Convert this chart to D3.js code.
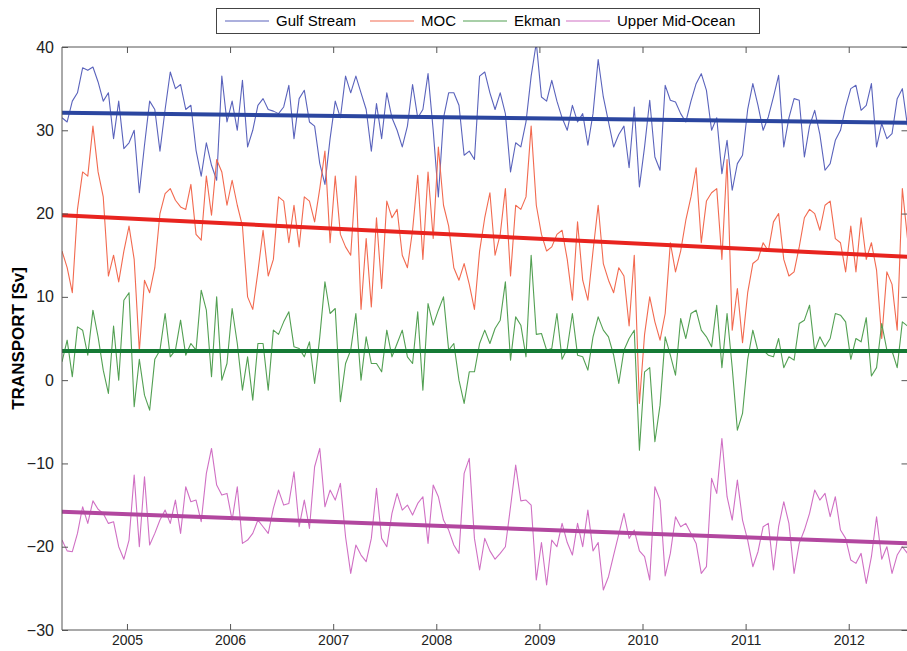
<!DOCTYPE html>
<html>
<head>
<meta charset="utf-8" />
<title>Transport time series</title>
<script src="https://cdn.jsdelivr.net/npm/d3@7"></script>
<style>
    body { margin: 0; background: #fff; }
    svg { display: block; font-family: "Liberation Sans", Arial, sans-serif; }
    .axis text { fill: #222; }
    .axis path, .axis line { stroke: #555; }
</style>
</head>
<body>
<svg id="chart" width="907" height="651"></svg>
<script>
// sampling of the series (decimal years)
var startYear = 2004.37, stepYears = 0.05;
var yearTicks = [2005, 2006, 2007, 2008, 2009, 2010, 2011, 2012];
var valueTicks = [-30, -20, -10, 0, 10, 20, 30, 40];

var seriesNames = ["Gulf Stream", "MOC", "Ekman", "Upper Mid-Ocean"];

var gulfStream = [31.5,31.0,33.5,34.5,37.5,37.2,37.6,35.8,33.5,34.5,
    29.0,33.5,27.8,28.5,30.0,22.5,28.2,33.5,32.5,27.5,
    32.5,37.0,35.0,35.5,32.5,33.0,27.6,24.5,28.5,25.8,
    24.0,36.5,31.0,33.5,30.0,36.0,28.0,30.0,33.0,33.8,
    32.5,32.3,32.0,32.8,35.4,29.0,33.8,34.8,31.0,30.5,
    26.0,23.5,29.0,33.5,31.5,36.5,34.5,36.5,34.5,32.5,
    27.5,33.2,29.0,34.5,31.5,30.0,28.0,30.5,35.5,31.5,
    32.5,36.8,30.0,22.0,31.5,34.5,34.5,33.0,27.0,27.5,
    26.5,36.5,37.0,34.5,32.5,34.5,32.0,25.0,28.5,28.0,
    31.0,36.5,40.5,34.0,33.5,36.0,33.5,31.5,30.0,33.0,
    31.0,32.0,28.2,32.0,38.5,34.0,31.0,28.0,29.5,30.5,
    25.5,32.8,23.2,28.0,33.6,26.8,25.2,35.4,33.6,33.4,
    32.0,31.0,33.5,35.6,36.8,34.8,30.0,31.5,24.8,28.8,
    22.8,26.0,27.0,32.5,35.6,33.0,30.0,31.6,34.0,36.6,
    28.0,31.5,33.8,33.6,26.8,30.5,32.4,29.5,25.2,26.0,
    28.8,30.0,32.8,35.0,35.4,32.4,33.0,35.6,28.0,30.8,
    29.0,29.6,33.8,35.0,30.5];

var moc = [15.5,13.5,10.5,20.5,25.0,24.5,30.5,25.0,22.0,12.5,
    15.0,11.8,15.5,18.5,14.5,3.5,12.0,10.5,13.5,20.0,
    22.4,23.0,21.6,20.8,20.5,23.5,17.5,16.8,24.5,19.8,
    26.5,25.0,21.0,24.0,21.0,18.5,10.0,8.5,13.0,18.0,
    12.5,14.5,22.0,21.5,16.5,21.0,16.0,22.0,21.5,19.0,
    23.0,27.5,16.5,24.5,17.5,16.0,15.0,24.5,8.5,17.0,
    8.8,19.5,11.0,21.5,19.5,20.5,15.0,13.5,18.0,24.6,
    14.5,25.0,17.0,28.0,21.0,18.5,13.5,12.0,14.0,11.5,
    8.5,15.5,19.5,22.5,15.0,17.5,23.0,12.5,21.0,20.5,
    22.0,30.5,21.0,17.5,15.5,16.0,17.5,18.0,14.5,9.6,
    19.0,12.0,9.6,15.5,21.0,14.0,12.0,10.5,13.5,12.5,
    6.5,15.0,-2.8,5.5,10.0,7.0,4.8,8.0,16.5,13.0,
    15.5,19.2,22.0,25.5,16.5,21.5,22.5,23.0,14.5,26.5,
    6.0,11.0,4.5,10.5,14.0,14.5,16.5,15.5,19.0,20.0,
    14.5,12.5,13.0,16.0,19.5,20.5,20.0,18.0,21.0,21.5,
    17.0,16.5,13.0,18.5,13.0,19.5,14.5,16.5,13.2,5.0,
    13.0,11.5,6.0,23.0,17.0];

var ekman = [2.2,4.8,0.4,6.4,6.0,3.0,8.4,5.2,1.2,-1.6,
    6.5,0.0,9.6,10.5,-3.2,2.5,-1.8,-3.6,2.5,3.6,
    8.0,2.8,3.6,7.2,3.0,4.4,3.6,10.8,8.4,0.4,
    10.0,0.0,2.0,8.6,4.4,-1.2,2.8,-2.4,4.4,4.4,
    -1.2,6.0,5.5,7.0,8.2,4.0,3.8,2.8,4.6,-0.4,
    5.2,11.8,8.0,8.6,-2.6,2.0,3.6,8.0,0.0,5.2,
    2.0,2.0,1.0,6.0,2.8,4.4,6.0,2.8,2.0,8.2,
    -1.2,9.2,6.6,8.4,10.0,3.6,4.4,0.0,-2.8,1.0,
    1.0,4.4,6.0,4.4,6.2,7.2,11.8,2.4,7.6,6.6,
    2.8,15.0,5.5,5.6,3.6,3.8,8.0,2.5,3.8,8.0,
    3.0,2.8,1.2,5.2,7.6,6.0,5.2,3.0,-0.4,3.6,
    5.0,6.0,-8.4,1.0,1.5,-7.4,-3.0,5.2,3.0,0.6,
    7.4,5.0,8.0,8.4,6.0,5.2,4.0,9.0,1.5,8.0,
    1.5,-6.0,-4.0,2.5,6.0,3.5,3.6,3.0,2.8,5.0,
    1.5,2.8,2.4,6.8,7.2,9.0,3.5,5.2,4.0,5.0,
    8.0,7.8,7.0,2.5,5.0,4.6,7.5,0.5,1.5,6.8,
    3.6,3.5,1.5,7.0,6.5];

var upperMidOcean = [-19.2,-20.5,-20.6,-18.4,-15.2,-17.2,-14.5,-15.5,-16.0,-17.2,
    -17.0,-20.0,-21.5,-19.2,-11.4,-20.0,-11.6,-19.8,-18.4,-16.8,
    -15.6,-17.2,-14.4,-18.4,-12.8,-14.6,-14.4,-17.0,-11.2,-8.2,
    -12.6,-13.8,-13.6,-16.8,-12.8,-19.6,-19.2,-18.4,-16.8,-17.6,
    -18.4,-15.4,-13.2,-15.0,-14.8,-11.0,-17.6,-14.4,-17.8,-10.4,
    -8.2,-15.2,-13.2,-14.4,-12.4,-18.8,-23.2,-19.8,-21.0,-21.8,
    -19.0,-13.0,-19.0,-20.0,-16.0,-13.6,-15.6,-15.0,-16.2,-14.8,
    -14.0,-19.6,-12.6,-14.0,-16.8,-18.0,-19.8,-20.8,-11.2,-9.4,
    -19.0,-22.8,-19.0,-20.5,-21.5,-20.8,-20.0,-15.2,-10.2,-14.5,
    -14.4,-15.0,-24.0,-19.5,-24.6,-19.2,-20.0,-17.2,-19.5,-21.0,
    -17.2,-20.0,-15.6,-20.5,-19.5,-25.2,-23.6,-21.0,-18.5,-16.0,
    -19.0,-18.0,-20.5,-21.2,-24.0,-12.8,-14.4,-23.5,-20.8,-16.4,
    -17.6,-17.2,-18.4,-19.6,-23.2,-22.4,-11.8,-13.6,-7.0,-14.0,
    -16.8,-12.0,-16.8,-19.2,-22.4,-20.6,-17.6,-17.2,-22.8,-17.6,
    -14.6,-17.2,-23.2,-19.6,-18.0,-16.0,-13.2,-14.4,-13.6,-16.4,
    -14.0,-18.0,-19.0,-21.6,-22.0,-20.8,-24.4,-21.2,-16.4,-21.5,
    -20.0,-23.2,-21.0,-20.0,-20.8];

// linear trend, value at first and last sample
var trendStart = [32.1, 19.8, 3.5, -15.8];
var trendEnd   = [30.9, 14.8, 3.5, -19.6];

var thinColors  = ["#5a63bc", "#f26a50", "#53a053", "#d070c4"];
var trendColors = ["#2b46a0", "#e8241f", "#157a35", "#b2479f"];

var allSeries = [gulfStream, moc, ekman, upperMidOcean];

var svg = d3.select("#chart");
var margin = {top: 47, left: 62};
var plotRight = 907.5;
var height = 630;

var x = d3.scaleLinear()
    .domain([startYear, startYear + stepYears * (gulfStream.length - 1)])
    .range([margin.left, plotRight]);
var y = d3.scaleLinear().domain([-30, 40]).range([height, margin.top]);

svg.append("defs").append("clipPath").attr("id", "plotclip")
    .append("rect")
    .attr("x", margin.left).attr("y", margin.top)
    .attr("width", plotRight - margin.left + 20).attr("height", height - margin.top);

var plot = svg.append("g").attr("clip-path", "url(#plotclip)");

var line = d3.line()
    .x(function(d, i) { return x(startYear + i * stepYears); })
    .y(function(d) { return y(d); });

allSeries.forEach(function(s, k) {
    plot.append("path")
        .datum(s)
        .attr("fill", "none")
        .attr("stroke", thinColors[k])
        .attr("stroke-width", 1.1)
        .attr("stroke-linejoin", "round")
        .attr("d", line);
});

var lastYear = startYear + stepYears * (gulfStream.length - 1);
allSeries.forEach(function(s, k) {
    plot.append("line")
        .attr("x1", x(startYear)).attr("y1", y(trendStart[k]))
        .attr("x2", x(lastYear)).attr("y2", y(trendEnd[k]))
        .attr("stroke", trendColors[k])
        .attr("stroke-width", 4);
});

// box: left, top, bottom (right side sits at the page edge)
var frame = svg.append("g").attr("stroke", "#555").attr("stroke-width", 1).attr("fill", "none");
frame.append("line").attr("x1", margin.left).attr("x2", margin.left).attr("y1", margin.top).attr("y2", height);
frame.append("line").attr("x1", margin.left).attr("x2", 907).attr("y1", margin.top).attr("y2", margin.top);
frame.append("line").attr("x1", margin.left).attr("x2", 907).attr("y1", height).attr("y2", height);

// axes, MATLAB style ticks pointing inward
svg.append("g")
    .attr("class", "axis")
    .attr("transform", "translate(0," + height + ")")
    .call(d3.axisBottom(x).tickValues(yearTicks).tickFormat(d3.format("d")).tickSizeInner(-6).tickSizeOuter(0).tickPadding(5))
    .call(function(g) { g.select(".domain").remove(); g.selectAll("text").style("font-size", "14px"); });

svg.append("g")
    .attr("transform", "translate(0," + margin.top + ")")
    .call(d3.axisTop(x).tickValues(yearTicks).tickFormat("").tickSizeInner(-6).tickSizeOuter(0))
    .call(function(g) { g.select(".domain").remove(); g.selectAll("line").attr("stroke", "#555"); });

svg.append("g")
    .attr("class", "axis")
    .attr("transform", "translate(" + margin.left + ",0)")
    .call(d3.axisLeft(y).tickValues(valueTicks).tickFormat(function(d) { return d < 0 ? "\u2212" + Math.abs(d) : d; }).tickSizeInner(-6).tickSizeOuter(0).tickPadding(8))
    .call(function(g) { g.select(".domain").remove(); g.selectAll("text").style("font-size", "16px"); });

svg.append("g")
    .attr("transform", "translate(" + plotRight + ",0)")
    .call(d3.axisRight(y).tickValues(valueTicks).tickFormat("").tickSizeInner(-6).tickSizeOuter(0))
    .call(function(g) { g.select(".domain").remove(); g.selectAll("line").attr("stroke", "#555"); });

svg.append("text")
    .attr("transform", "translate(24," + ((margin.top + height) / 2) + ") rotate(-90)")
    .attr("text-anchor", "middle")
    .style("font-size", "17px")
    .style("font-weight", "bold")
    .text("TRANSPORT [Sv]");

// legend
var legend = svg.append("g");
legend.append("rect")
    .attr("x", 216.5).attr("y", 8.5).attr("width", 543).attr("height", 25)
    .attr("fill", "#fff").attr("stroke", "#444");
var legendX = [225, 370, 463, 566];
seriesNames.forEach(function(name, k) {
    legend.append("line")
        .attr("x1", legendX[k]).attr("x2", legendX[k] + 44)
        .attr("y1", 21).attr("y2", 21)
        .attr("stroke", thinColors[k]).attr("stroke-width", 1.1);
    legend.append("text")
        .attr("x", legendX[k] + 51).attr("y", 26)
        .style("font-size", "15px")
        .text(name);
});
</script>
</body>
</html>
